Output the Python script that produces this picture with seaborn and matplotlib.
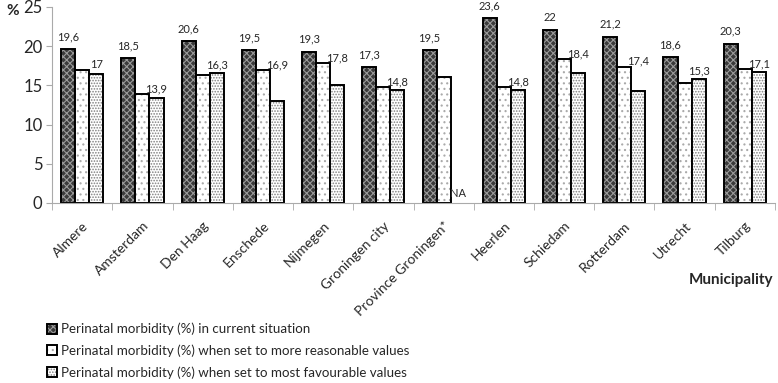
import numpy as np
import pandas as pd
import matplotlib
matplotlib.use("Agg")
import matplotlib.pyplot as plt
from matplotlib.colors import to_rgba
import seaborn as sns

# data
municipalities = ["Almere", "Amsterdam", "Den Haag", "Enschede", "Nijmegen", "Groningen city",
                  "Province Groningen*", "Heerlen", "Schiedam", "Rotterdam", "Utrecht", "Tilburg"]
current = [19.6, 18.5, 20.6, 19.5, 19.3, 17.3, 19.5, 23.6, 22.0, 21.2, 18.6, 20.3]
reasonable = [17.0, 13.9, 16.3, 16.9, 17.8, 14.8, 16.0, 14.8, 18.4, 17.4, 15.3, 17.1]
favourable = [16.5, 13.4, 16.6, 13.0, 15.0, 14.4, np.nan, 14.4, 16.6, 14.3, 15.8, 16.7]
scenarios = ["Perinatal morbidity (%) in current situation",
             "Perinatal morbidity (%) when set to more reasonable values",
             "Perinatal morbidity (%) when set to most favourable values"]
yticks = [0, 5, 10, 15, 20, 25]

df = pd.DataFrame({
    "Municipality": municipalities * 3,
    "Scenario": [scenarios[0]] * 12 + [scenarios[1]] * 12 + [scenarios[2]] * 12,
    "Value": current + reasonable + favourable,
})

sns.set_style("white")
plt.rcParams["font.family"] = ["Lato", "DejaVu Sans"]
plt.rcParams["hatch.linewidth"] = 0.8

fig = plt.figure(figsize=(7.78, 3.83), dpi=100)
ax = fig.add_axes([0.067, 0.47, 0.929, 0.512])

sns.barplot(data=df, x="Municipality", y="Value", hue="Scenario", hue_order=scenarios,
            palette=["#3a3a3a", "white", "white"], width=0.7, gap=0,
            edgecolor="black", linewidth=1.4, legend=False, ax=ax)

# fill patterns, hatch drawn in grey instead of the black edge colour
hatches = ["xxxxx", "...", "......"]
hatch_cols = ["#9a9a9a", "#aaaaaa", "#808080"]
for cont, h, hc in zip(ax.containers, hatches, hatch_cols):
    for p in cont.patches:
        p.set_hatch(h)
        p._hatch_color = to_rgba(hc)

def fmt(v):
    s = f"{v:.1f}".replace(".", ",")
    return s[:-2] if s.endswith(",0") else s

# labels: current value over first bar, reasonable value placed over third bar
w = ax.containers[0].patches[0].get_width()
for i in range(len(municipalities)):
    ax.annotate(fmt(current[i]), (i - w, current[i]),
                xytext=(0, 5), textcoords="offset points", ha="center", va="bottom", fontsize=8)
    if np.isnan(favourable[i]):
        ax.annotate("NA", (i + w, 0), xytext=(0, 3),
                    textcoords="offset points", ha="center", va="bottom", fontsize=8)
        continue
    ax.annotate(fmt(reasonable[i]), (i + w, max(favourable[i], reasonable[i] - 0.4)),
                xytext=(0, 2), textcoords="offset points", ha="center", va="bottom", fontsize=8)

ax.set_ylim(0, 25)
ax.set_yticks(yticks)
ax.set_xlim(-0.5, len(municipalities) - 0.5)
ax.set_xlabel("")
ax.set_ylabel("")
ax.tick_params(axis="y", labelsize=12, length=4, color="#aaaaaa", left=True, pad=3)
ax.tick_params(axis="x", which="major", length=0, pad=12)
ax.set_xticks(np.arange(-0.5, len(municipalities), 1), minor=True)
ax.tick_params(axis="x", which="minor", length=5, color="#aaaaaa", bottom=True)
plt.setp(ax.get_xticklabels(), rotation=45, ha="right", rotation_mode="anchor", fontsize=10)

sns.despine(ax=ax)
for s in ["left", "bottom"]:
    ax.spines[s].set_color("#aaaaaa")

fig.text(0.008, 0.972, "%", fontsize=11, fontweight="bold", va="center")
fig.text(0.994, 0.27, "Municipality", fontsize=11, fontweight="bold", ha="right", va="center")

handles = [c.patches[0] for c in ax.containers]
fig.legend(handles, scenarios, loc="upper left", bbox_to_anchor=(0.06, 0.157),
           frameon=False, fontsize=9.6, handlelength=0.75, handleheight=0.75,
           handletextpad=0.3, labelspacing=0.68, borderaxespad=0, borderpad=0)

fig.savefig("out.png", dpi=100)
